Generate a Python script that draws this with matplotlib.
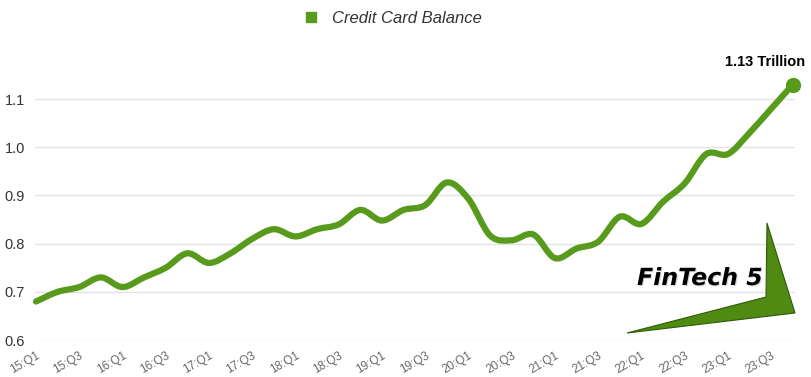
import numpy as np
import matplotlib.pyplot as plt
from matplotlib.path import Path
from matplotlib.patches import PathPatch, Polygon
from matplotlib.lines import Line2D
import matplotlib.patheffects as pe

plt.rcParams['font.family'] = ['Liberation Sans', 'DejaVu Sans']

# quarterly credit card balance, trillions of dollars
quarters = [f"{y}:Q{q}" for y in range(15, 24) for q in range(1, 5)]
balance = [0.68, 0.70, 0.71, 0.73, 0.71, 0.73, 0.75, 0.78,
           0.76, 0.78, 0.81, 0.83, 0.815, 0.83, 0.84, 0.87,
           0.848, 0.87, 0.88, 0.927, 0.893, 0.817, 0.807, 0.819,
           0.77, 0.79, 0.804, 0.856, 0.841, 0.887, 0.925, 0.986,
           0.986, 1.03, 1.08, 1.13]
yticks = [0.6, 0.7, 0.8, 0.9, 1.0, 1.1]

green = '#589a1c'

fig = plt.figure(figsize=(8.12, 3.77), dpi=100)
ax = fig.add_axes([0.043, 0.098, 0.936, 0.767])

x = np.arange(len(balance))
y = np.array(balance)

# smooth curve through the points (Catmull-Rom as cubic beziers)
verts = [(x[0], y[0])]
codes = [Path.MOVETO]
for i in range(len(x) - 1):
    p0 = np.array([x[max(i - 1, 0)], y[max(i - 1, 0)]])
    p1 = np.array([x[i], y[i]])
    p2 = np.array([x[i + 1], y[i + 1]])
    p3 = np.array([x[min(i + 2, len(x) - 1)], y[min(i + 2, len(x) - 1)]])
    c1 = p1 + (p2 - p0) / 6
    c2 = p2 - (p3 - p1) / 6
    verts += [tuple(c1), tuple(c2), tuple(p2)]
    codes += [Path.CURVE4] * 3
ax.add_patch(PathPatch(Path(verts, codes), fill=False, edgecolor=green,
                       lw=4.5, capstyle='round', joinstyle='round', zorder=3,
                       clip_on=False))
ax.plot(x[-1], y[-1], 'o', color=green, ms=10, zorder=4, clip_on=False)
ax.annotate(f"{balance[-1]:.2f} Trillion", (x[-1], y[-1]), xytext=(9, 11),
            textcoords='offset points', ha='right', va='bottom',
            fontsize=10.5, fontweight='bold', color='black', annotation_clip=False)

ax.set_xlim(-0.05, 35.1)
ax.set_ylim(0.6, 1.2)
ax.set_yticks(yticks)
ax.set_yticklabels([f"{v:.1f}" for v in yticks])
ax.set_xticks(x[::2])
ax.set_xticklabels(quarters[::2], rotation=30, ha='right', rotation_mode='anchor')
ax.tick_params(axis='x', length=0, labelsize=8.5, labelcolor='#666666', pad=7)
ax.tick_params(axis='y', length=0, labelsize=10.5, labelcolor='#333333', pad=7)
ax.grid(axis='y', color='#e3e3e3', lw=1)
ax.set_axisbelow(True)
for s in ax.spines.values():
    s.set_visible(False)

handle = Line2D([], [], marker='s', ls='', color=green, ms=7)
fig.legend([handle], ['Credit Card Balance'], loc='center', bbox_to_anchor=(0.478, 0.952),
           frameon=False, handletextpad=0.3,
           prop={'style': 'italic', 'size': 12})
fig.legends[0].get_texts()[0].set_color('#333333')

# FinTech 5 watermark
arrow = Polygon([(627 / 812, 1 - 333 / 377), (766 / 812, 1 - 297 / 377),
                 (767 / 812, 1 - 223 / 377), (795 / 812, 1 - 313 / 377)],
                closed=True, transform=fig.transFigure, facecolor='#4f8a12',
                edgecolor='#2f5a08', lw=0.8, zorder=5)
fig.patches.append(arrow)
fig.text(700 / 812, 1 - 278 / 377, 'FinTech 5', ha='center', va='center',
         fontsize=17, fontweight='heavy', style='italic', color='black',
         family='DejaVu Sans',
         path_effects=[pe.withSimplePatchShadow(offset=(0.8, -0.8), shadow_rgbFace='#999999', alpha=0.4)])

fig.savefig('out.png', dpi=100)
